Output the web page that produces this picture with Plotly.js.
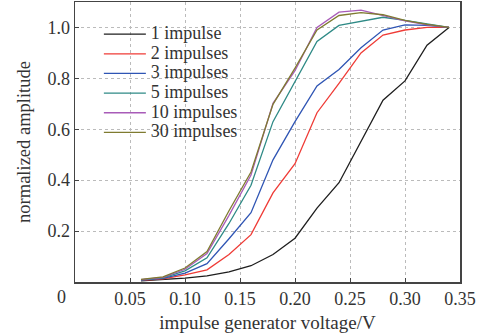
<!DOCTYPE html>
<html>
<head>
<meta charset="utf-8">
<script src="https://cdn.plot.ly/plotly-3.0.1.min.js"></script>
<style>html,body{margin:0;padding:0;background:#fff;}#chart{width:489px;height:333px;}</style>
</head>
<body>
<div id="chart"></div>
<script>
const voltage = [0.06, 0.08, 0.10, 0.12, 0.14, 0.16, 0.18, 0.20, 0.22, 0.24, 0.26, 0.28, 0.30, 0.32, 0.34];
const imp1  = [0.005, 0.010, 0.015, 0.024, 0.040, 0.064, 0.108, 0.172, 0.290, 0.390, 0.555, 0.714, 0.790, 0.930, 1.000];
const imp2  = [0.006, 0.012, 0.028, 0.048, 0.108, 0.186, 0.350, 0.465, 0.665, 0.780, 0.900, 0.970, 0.990, 1.000, 1.000];
const imp3  = [0.007, 0.014, 0.035, 0.072, 0.170, 0.272, 0.480, 0.630, 0.770, 0.835, 0.920, 0.990, 1.010, 1.008, 1.000];
const imp5  = [0.008, 0.016, 0.044, 0.095, 0.230, 0.380, 0.630, 0.790, 0.945, 1.008, 1.025, 1.040, 1.028, 1.015, 1.000];
const imp10 = [0.009, 0.018, 0.050, 0.112, 0.262, 0.420, 0.702, 0.830, 1.000, 1.060, 1.068, 1.046, 1.026, 1.010, 1.000];
const imp30 = [0.010, 0.020, 0.055, 0.120, 0.280, 0.432, 0.698, 0.840, 0.990, 1.047, 1.058, 1.050, 1.028, 1.012, 1.000];
const seriesNames = ['1 impulse', '2 impulses', '3 impulses', '5 impulses', '10 impulses', '30 impulses'];
const xTicks = [0.05, 0.10, 0.15, 0.20, 0.25, 0.30, 0.35];
const xTickText = ['0.05', '0.10', '0.15', '0.20', '0.25', '0.30', '0.35'];
const yTicks = [0.2, 0.4, 0.6, 0.8, 1.0];
const yTickText = ['0.2', '0.4', '0.6', '0.8', '1.0'];

const seriesData = [imp1, imp2, imp3, imp5, imp10, imp30];
const colors = ['#1e1e1e', '#ef3b36', '#2f55b4', '#2e8a86', '#a85bb8', '#7f7b30'];
const serif = 'Liberation Serif';

const traces = seriesData.map((ys, i) => ({
  x: voltage, y: ys, type: 'scatter', mode: 'lines',
  name: '<span style="font-size:18px">' + seriesNames[i] + '</span>',
  line: {color: colors[i], width: 1.3}
}));

const axisCommon = {
  showline: true, linecolor: '#444', linewidth: 1.5, mirror: true,
  ticks: 'inside', ticklen: 4, tickcolor: '#444',
  showgrid: true, gridcolor: '#bbbbbb', griddash: 'dot', gridwidth: 1,
  zeroline: false, tickfont: {family: serif, size: 18, color: '#333'}
};

const layout = {
  width: 489, height: 333,
  margin: {l: 75, r: 29, t: 2, b: 51},
  paper_bgcolor: '#fff', plot_bgcolor: '#fff',
  font: {family: serif, color: '#333'},
  showlegend: true,
  legend: {x: 0.062, y: 0.938, xanchor: 'left', yanchor: 'top', bgcolor: 'rgba(255,255,255,0)',
           font: {family: serif, size: 12.8, color: '#333'}, tracegroupgap: 0, itemwidth: 42},
  xaxis: Object.assign({}, axisCommon, {
    range: [0, 0.35], tickvals: xTicks, ticktext: xTickText,
    title: {text: 'impulse generator voltage/V', font: {family: serif, size: 19, color: '#333'}, standoff: 8}
  }),
  yaxis: Object.assign({}, axisCommon, {
    range: [0, 1.1], tickvals: yTicks, ticktext: yTickText,
    title: {text: 'normalized amplitude', font: {family: serif, size: 18.5, color: '#333'}, standoff: 12}
  }),
  annotations: [{
    text: '0', xref: 'paper', yref: 'paper', x: -0.034, y: -0.054,
    xanchor: 'center', yanchor: 'middle', showarrow: false,
    font: {family: serif, size: 18, color: '#333'}
  }]
};

Plotly.newPlot('chart', traces, layout, {displayModeBar: false, staticPlot: true});
</script>
</body>
</html>
